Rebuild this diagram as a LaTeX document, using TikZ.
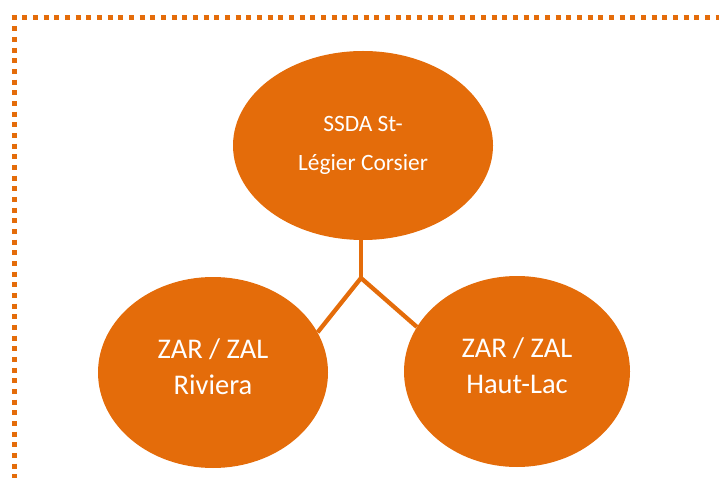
\documentclass[tikz,border=0pt]{standalone}
\usepackage{fontspec}
\setmainfont{Carlito}
\usepackage{xcolor}
\usetikzlibrary{shapes.geometric}
\definecolor{zorange}{RGB}{228,108,10}
\tikzstyle{bubble} = [ellipse, fill=zorange, text=white, inner sep=0pt,
    align=center]
\tikzstyle{toptext} = [font=\fontsize{23.4}{38.5}\selectfont]
\tikzstyle{zonetext} = [font=\fontsize{28.5}{36}\selectfont, text depth=12pt]
\tikzstyle{branch} = [draw=zorange, line width=4.3pt]
\tikzstyle{dotframe} = [draw=zorange, line width=5pt,
    dash pattern=on 5pt off 5.67pt]

\begin{document}
\begin{tikzpicture}[x=1pt, y=-1pt]
    \useasboundingbox (0,0) rectangle (719,478);
    \draw[dotframe] (11.5,18) -- (740,18);
    \draw[dotframe] (14,15.5) -- (14,490);
    \node[bubble, toptext, minimum width=260, minimum height=189] (ssda)
        at (363,145.5) {SSDA St-\\Légier Corsier};
    \node[bubble, zonetext, minimum width=230, minimum height=191] (riviera)
        at (213,372.5) {ZAR / ZAL\\Riviera};
    \node[bubble, zonetext, minimum width=226, minimum height=191] (hautlac)
        at (517,371.5) {ZAR / ZAL\\Haut-Lac};
    \coordinate (fork) at (361,278);
    \draw[branch] (fork) -- (fork |- ssda.south);
    \draw[branch] (riviera.21) -- (fork) -- (hautlac.156);
\end{tikzpicture}
\end{document}
